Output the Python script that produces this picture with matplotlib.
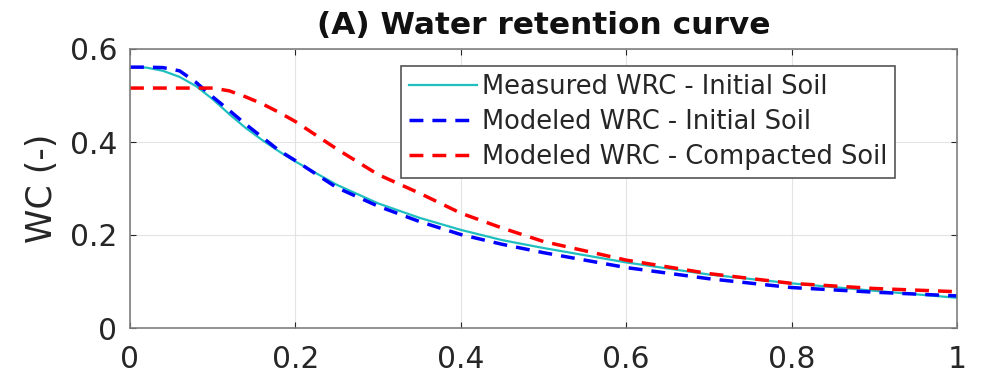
import matplotlib
matplotlib.use("Agg")
import matplotlib.pyplot as plt

plt.rcParams['font.family'] = ['DejaVu Sans']

x = [0, 0.02, 0.04, 0.06, 0.08, 0.10, 0.12, 0.14, 0.16, 0.18, 0.20,
     0.25, 0.30, 0.35, 0.40, 0.45, 0.50, 0.60, 0.70, 0.80, 0.90, 1.00]
measured_initial = [0.561, 0.560, 0.553, 0.540, 0.520, 0.492, 0.460, 0.430, 0.404, 0.380, 0.358,
                    0.308, 0.268, 0.237, 0.211, 0.189, 0.172, 0.141, 0.115, 0.096, 0.080, 0.065]
modeled_initial = [0.561, 0.561, 0.560, 0.553, 0.528, 0.497, 0.468, 0.438, 0.410, 0.382, 0.360,
                   0.302, 0.262, 0.229, 0.201, 0.180, 0.162, 0.130, 0.106, 0.087, 0.077, 0.069]
modeled_compacted = [0.516, 0.516, 0.516, 0.516, 0.516, 0.516, 0.510, 0.497, 0.482, 0.464, 0.444,
                     0.385, 0.330, 0.290, 0.247, 0.215, 0.186, 0.146, 0.117, 0.096, 0.085, 0.078]
labels = ["Measured WRC - Initial Soil", "Modeled WRC - Initial Soil",
          "Modeled WRC - Compacted Soil"]
title = "(A) Water retention curve"
ylabel = "WC (-)"
xticks = [0, 0.2, 0.4, 0.6, 0.8, 1]
xticklabels = ['0', '0.2', '0.4', '0.6', '0.8', '1']
yticks = [0, 0.2, 0.4, 0.6]
yticklabels = ['0', '0.2', '0.4', '0.6']

fig = plt.figure(figsize=(9.86, 3.79), dpi=100)
ax = fig.add_axes([130/986, 1-328/379, 827/986, 279/379])

ax.plot(x, measured_initial, color='#1fbfbf', lw=1.6, label=labels[0])
ax.plot(x, modeled_initial, color='#0000ff', lw=2.5, dashes=(4, 2.6), label=labels[1])
ax.plot(x, modeled_compacted, color='#ff0000', lw=2.5, dashes=(4, 2.6), label=labels[2])

ax.set_xlim(0, 1)
ax.set_ylim(0, 0.6)
ax.set_xticks(xticks)
ax.set_xticklabels(xticklabels)
ax.set_yticks(yticks)
ax.set_yticklabels(yticklabels)
ax.grid(True, color='#e3e3e3', lw=0.8)
ax.set_axisbelow(True)
for s in ax.spines.values():
    s.set_color('#7f7f7f')
    s.set_linewidth(1.2)
ax.tick_params(direction='in', length=4, width=0.8, color='#262626',
               labelsize=21.4, labelcolor='#262626', top=True, right=True)
ax.tick_params(axis='x', pad=12)
ax.tick_params(axis='y', pad=9)
ax.set_ylabel(ylabel, fontsize=25, color='#262626', labelpad=8)
ax.set_title(title, fontsize=22.5, fontweight='bold', color='#111111', pad=11)

leg = ax.legend(loc='upper right', bbox_to_anchor=((895-130)/827, (328-66)/279),
                borderaxespad=0, fontsize=18.5, handlelength=2.65, handletextpad=0.2,
                labelspacing=0.36, borderpad=0.3, fancybox=False, framealpha=1,
                edgecolor='#555555')
leg.get_frame().set_linewidth(1.2)
for t in leg.get_texts():
    t.set_color('#262626')

fig.savefig('out.png', dpi=100)
